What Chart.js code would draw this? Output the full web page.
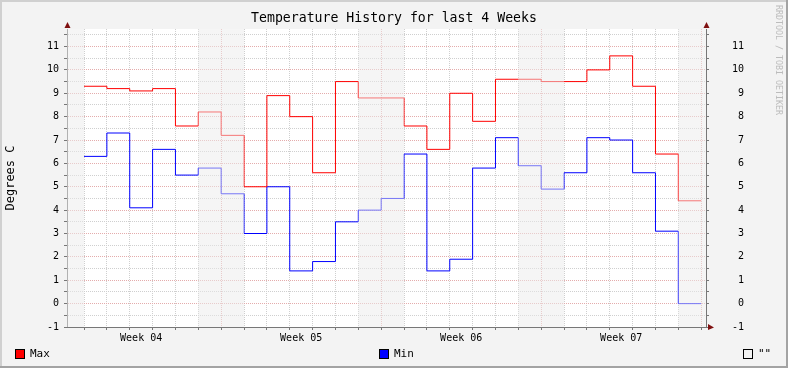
<!DOCTYPE html>
<html>
<head>
<meta charset="utf-8">
<script src="https://cdn.jsdelivr.net/npm/chart.js@4/dist/chart.umd.min.js"></script>
<style>
  html, body { margin: 0; padding: 0; background: #f3f3f3; }
  #wrap { width: 788px; height: 368px; }
</style>
</head>
<body>
<div id="wrap"><canvas id="temps" width="788" height="368"></canvas></div>
<script>
// daily values, one per day, oldest first
const maxTemps = [9.3, 9.2, 9.1, 9.2, 7.6, 8.2, 7.2, 5.0, 8.9, 8.0, 5.6, 9.5, 8.8, 8.8,
                  7.6, 6.6, 9.0, 7.8, 9.6, 9.6, 9.5, 9.5, 10.0, 10.6, 9.3, 6.4, 4.4];
const minTemps = [6.3, 7.3, 4.1, 6.6, 5.5, 5.8, 4.7, 3.0, 5.0, 1.4, 1.8, 3.5, 4.0, 4.5,
                  6.4, 1.4, 1.9, 5.8, 7.1, 5.9, 4.9, 5.6, 7.1, 7.0, 5.6, 3.1, 0.0];
const weekLabels = ['Week 04', 'Week 05', 'Week 06', 'Week 07'];
const weekLabelDays = [2.5, 9.5, 16.5, 23.5];
const weekStartDays = [6, 13, 20, 27];
const weekendStarts = [-2, 5, 12, 19, 26];   // each shaded block is 2 days

const FONT = '"DejaVu Sans Mono", "Liberation Mono", monospace';
const MINOR = '#cfcfcf';
const MAJOR = '#e4acac';
const AXIS = '#777777';

// step data: each value holds for one day, plus a closing point
function steps(values) {
    const pts = values.map((v, i) => ({ x: i, y: v }));
    pts.push({ x: values.length, y: values[values.length - 1] });
    return pts;
}

function dayTicks(axis) {
    const t = [];
    for (let d = 0; d <= maxTemps.length; d++) t.push(d);
    weekLabelDays.forEach(d => t.push(d));
    t.sort((a, b) => a - b);
    axis.ticks = t.map(v => ({ value: v }));
}

function halfTicks(axis) {
    const t = [];
    for (let v = -1; v <= 11.5; v += 0.5) t.push({ value: v });
    axis.ticks = t;
}

const isDay = v => Math.abs(v - Math.round(v)) < 1e-6;

const frame = {
    id: 'frame',
    beforeDraw(chart) {
        const { ctx, chartArea: a, width, height } = chart;
        ctx.save();
        ctx.fillStyle = '#f3f3f3';
        ctx.fillRect(0, 0, width, height);
        ctx.fillStyle = '#d0d0d0';
        ctx.fillRect(0, 0, width, 2);
        ctx.fillRect(0, 0, 2, height);
        ctx.fillStyle = '#a3a3a3';
        ctx.fillRect(0, height - 2, width, 2);
        ctx.fillRect(width - 2, 0, 2, height);
        ctx.fillStyle = '#ffffff';
        ctx.fillRect(a.left, a.top, a.right - a.left, a.bottom - a.top);
        ctx.restore();
    },
    afterDatasetsDraw(chart) {
        const { ctx, chartArea: a } = chart;
        const x = chart.scales.x;
        ctx.save();
        ctx.beginPath();
        ctx.rect(a.left, a.top, a.right - a.left, a.bottom - a.top);
        ctx.clip();
        ctx.fillStyle = 'rgba(235,235,235,0.5)';
        weekendStarts.forEach(d => {
            const x0 = x.getPixelForValue(d);
            const x1 = x.getPixelForValue(d + 2);
            ctx.fillRect(x0, a.top, x1 - x0, a.bottom - a.top);
        });
        ctx.restore();
    },
    afterDraw(chart) {
        const { ctx, chartArea: a, width } = chart;
        ctx.save();
        // arrows
        ctx.fillStyle = '#7f1010';
        const up = (cx) => {
            ctx.beginPath();
            ctx.moveTo(cx - 3, a.top - 1);
            ctx.lineTo(cx + 3, a.top - 1);
            ctx.lineTo(cx, a.top - 7);
            ctx.closePath();
            ctx.fill();
        };
        up(a.left + 0.5);
        up(a.right + 0.5);
        ctx.beginPath();
        ctx.moveTo(a.right + 2, a.bottom - 3);
        ctx.lineTo(a.right + 2, a.bottom + 3);
        ctx.lineTo(a.right + 8, a.bottom + 0.5);
        ctx.closePath();
        ctx.fill();

        // title
        ctx.fillStyle = '#000';
        ctx.font = '13.2px ' + FONT;
        ctx.textAlign = 'center';
        ctx.textBaseline = 'middle';
        ctx.fillText('Temperature History for last 4 Weeks', width / 2, 18.5);

        // legend
        ctx.font = '11px ' + FONT;
        ctx.textAlign = 'left';
        const items = [
            { x: 15, color: '#ff0000', text: 'Max' },
            { x: 379, color: '#0000ff', text: 'Min' },
            { x: 743, color: null, text: '""' }
        ];
        items.forEach(it => {
            if (it.color) {
                ctx.fillStyle = it.color;
                ctx.fillRect(it.x, 349, 9, 9);
            }
            ctx.strokeStyle = '#000';
            ctx.lineWidth = 1;
            ctx.strokeRect(it.x + 0.5, 349.5, 9, 9);
            ctx.fillStyle = '#000';
            ctx.fillText(it.text, it.x + 15, 354.5);
        });

        // watermark
        ctx.translate(778, 60);
        ctx.rotate(Math.PI / 2);
        ctx.fillStyle = '#bcbcbc';
        ctx.font = '8.3px ' + FONT;
        ctx.textAlign = 'center';
        ctx.fillText('RRDTOOL / TOBI OETIKER', 0, 0);
        ctx.restore();
    }
};

const ctx = document.getElementById('temps').getContext('2d');
const tempChart = new Chart(ctx, {
    type: 'line',
    data: {
        datasets: [
            {
                label: 'Max',
                data: steps(maxTemps),
                borderColor: '#ff0000',
                borderWidth: 1,
                stepped: 'before',
                pointRadius: 0,
                fill: false
            },
            {
                label: 'Min',
                data: steps(minTemps),
                borderColor: '#0000ff',
                borderWidth: 1,
                stepped: 'before',
                pointRadius: 0,
                fill: false
            }
        ]
    },
    options: {
        responsive: false,
        animation: false,
        layout: { padding: { top: 27, left: 0, right: 44, bottom: 0 } },
        plugins: {
            legend: { display: false },
            title: { display: false },
            tooltip: { enabled: false }
        },
        scales: {
            x: {
                type: 'linear',
                min: -0.744,
                max: 27.21,
                afterBuildTicks: dayTicks,
                afterFit: s => { s.height = 41; },
                border: { display: true, color: AXIS, width: 1, dash: [1, 1] },
                grid: {
                    color: c => {
                        const v = c.tick.value;
                        if (!isDay(v)) return 'rgba(0,0,0,0)';
                        return weekStartDays.includes(Math.round(v)) ? MAJOR : MINOR;
                    },
                    tickColor: c => isDay(c.tick.value) ? AXIS : 'rgba(0,0,0,0)',
                    tickLength: 3,
                    tickBorderDash: []
                },
                ticks: {
                    autoSkip: false,
                    maxRotation: 0,
                    padding: 2,
                    color: '#000',
                    font: { family: FONT, size: 10 },
                    callback: v => {
                        const i = weekLabelDays.findIndex(d => Math.abs(d - v) < 1e-6);
                        return i >= 0 ? weekLabels[i] : '';
                    }
                }
            },
            y: {
                position: 'left',
                min: -1,
                max: 11.75,
                afterBuildTicks: halfTicks,
                afterFit: s => { s.width = 67; },
                border: { display: true, color: AXIS, width: 1, dash: [1, 1] },
                grid: {
                    color: c => isDay(c.tick.value) ? MAJOR : MINOR,
                    tickColor: AXIS,
                    tickLength: 3,
                    tickBorderDash: []
                },
                title: {
                    display: true,
                    text: 'Degrees C',
                    color: '#000',
                    font: { family: FONT, size: 12 },
                    padding: { top: 4, bottom: 0 }
                },
                ticks: {
                    autoSkip: false,
                    padding: 5,
                    color: '#000',
                    font: { family: FONT, size: 10 },
                    callback: v => isDay(v) ? String(Math.round(v)) : ''
                }
            },
            y2: {
                position: 'right',
                min: -1,
                max: 11.75,
                afterBuildTicks: halfTicks,
                afterFit: s => { s.width = 38; },
                border: { display: true, color: AXIS, width: 1 },
                grid: {
                    drawOnChartArea: false,
                    tickColor: AXIS,
                    tickLength: 3
                },
                ticks: {
                    autoSkip: false,
                    padding: 23,
                    crossAlign: 'far',
                    color: '#000',
                    font: { family: FONT, size: 10 },
                    callback: v => isDay(v) ? String(Math.round(v)) : ''
                }
            }
        }
    },
    plugins: [frame]
});
</script>
</body>
</html>
